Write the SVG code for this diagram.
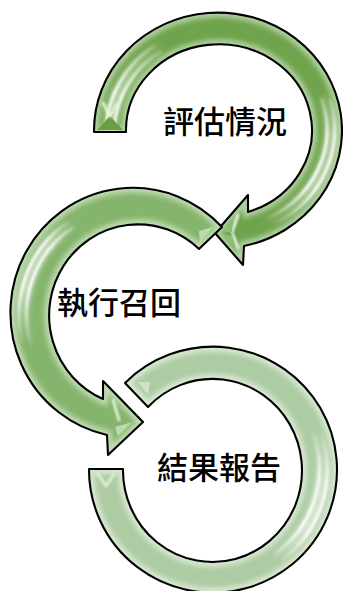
<svg xmlns="http://www.w3.org/2000/svg" width="343" height="591" viewBox="0 0 343 591">
<style>
.o{fill:none;stroke:#000;stroke-width:2.1;stroke-linejoin:round}
.e{fill:none;stroke-width:10;filter:url(#b3)}
.h{fill:none;stroke-width:2.8;stroke-linecap:round;filter:url(#b1)}
.w{fill:none;stroke-width:14;stroke-linecap:round;opacity:.5;filter:url(#b3)}
.f{filter:url(#b05)}
text{font-family:"Noto Sans CJK TC","Noto Sans CJK SC",sans-serif;font-size:31px;font-weight:500;fill:#000;text-anchor:middle}
</style>
<defs>
<filter id="b3" x="-20%" y="-20%" width="140%" height="140%"><feGaussianBlur stdDeviation="2.6"/></filter>
<filter id="b1" x="-30%" y="-30%" width="160%" height="160%"><feGaussianBlur stdDeviation="0.8"/></filter>
<filter id="b05" x="-30%" y="-30%" width="160%" height="160%"><feGaussianBlur stdDeviation="0.6"/></filter>
<path id="a1" d="M94,132 A124,118 0 1 1 244,246 L243,265 L215,233 L248,195 L248,212 A93,86 0 1 0 126,132 Z"/>
<path id="a2" d="M222,227 A122.5,125 0 1 0 107,435 L108,455 L143,422 L103,381 L103,399 A89,91 0 1 1 199,249 Z"/>
<path id="a3" d="M125,383 A124,123 0 1 1 89,469 L123,469 A89.5,91.5 0 1 0 148,407 Z"/>
<clipPath id="c1"><use href="#a1"/></clipPath>
<clipPath id="c2"><use href="#a2"/></clipPath>
<clipPath id="c3"><use href="#a3"/></clipPath>
<linearGradient id="g1a" gradientUnits="userSpaceOnUse" x1="108" y1="130" x2="172" y2="42"><stop offset="0" stop-color="#fff" stop-opacity=".8"/><stop offset=".3" stop-color="#fff"/><stop offset=".6" stop-color="#e4f2da" stop-opacity=".75"/><stop offset="1" stop-color="#e4f2da" stop-opacity="0"/></linearGradient>
<linearGradient id="g1b" gradientUnits="userSpaceOnUse" x1="325" y1="85" x2="262" y2="222"><stop offset="0" stop-color="#fff" stop-opacity="0"/><stop offset=".3" stop-color="#fff" stop-opacity=".9"/><stop offset=".65" stop-color="#fff"/><stop offset="1" stop-color="#fff" stop-opacity="0"/></linearGradient>
<linearGradient id="g2a" gradientUnits="userSpaceOnUse" x1="24" y1="345" x2="75" y2="220"><stop offset="0" stop-color="#fff" stop-opacity="0"/><stop offset=".4" stop-color="#fff"/><stop offset=".75" stop-color="#fff" stop-opacity=".9"/><stop offset="1" stop-color="#fff" stop-opacity="0"/></linearGradient>
<linearGradient id="g3a" gradientUnits="userSpaceOnUse" x1="325" y1="430" x2="270" y2="560"><stop offset="0" stop-color="#fff" stop-opacity="0"/><stop offset=".35" stop-color="#fff" stop-opacity=".9"/><stop offset=".7" stop-color="#fff"/><stop offset="1" stop-color="#fff" stop-opacity="0"/></linearGradient>
</defs>

<g id="connectors"/>

<g id="node-1">
<use href="#a1" fill="#6fa34c"/>
<g clip-path="url(#c1)">
<use href="#a1" class="e" stroke="#b0d0a0"/>
<path class="w" stroke="url(#g1a)" d="M110,128 A108.5,102 0 0 1 157,49"/>
<path class="w" stroke="url(#g1b)" d="M326,100 A108.5,102 0 0 1 271,221"/>
<path class="h" stroke="url(#g1a)" d="M114.3,128 A104.5,98 0 0 1 160,52"/>
<path class="h" stroke="url(#g1a)" d="M106.3,128 A112.5,106 0 0 1 154,46"/>
<path class="h" stroke="url(#g1b)" d="M322,100 A104.5,98 0 0 1 268,218"/>
<path class="h" stroke="url(#g1b)" d="M330,100 A112.5,106 0 0 1 274,224"/>
<polygon class="f" points="97,130 123,130 110,116" fill="#6a9e45"/>
<path class="h" stroke="#e6f4dc" d="M110,116 L103,103 M110,116 L117,104"/>
<path class="h" stroke="#eef8e6" d="M238,215 L232,232 M233,235 L238,248"/>
<polygon class="f" points="222,232 233,217 232,232" fill="#8fbb78"/>
<polygon class="f" points="222,234 232,236 237,254" fill="#8fbb78"/>
</g>
<use href="#a1" class="o"/>
<text x="225" y="133">評估情況</text>
</g>

<g id="node-2">
<use href="#a2" fill="#85b46c"/>
<g clip-path="url(#c2)">
<use href="#a2" class="e" stroke="#bfdab2"/>
<path class="w" stroke="url(#g2a)" d="M27,345 A106,108 0 0 1 70,225"/>
<path class="h" stroke="url(#g2a)" d="M31,345 A102,104 0 0 1 72,228"/>
<path class="h" stroke="url(#g2a)" d="M23,345 A110,112 0 0 1 68,222"/>
<polygon class="f" points="199,231 213,227 200,243" fill="#bdd9ae"/>
<path class="h" stroke="#e3f2d9" d="M113,400 L119,420"/>
<polygon class="f" points="115,427 132,422 118,436" fill="#bcdaa9"/>
</g>
<use href="#a2" class="o"/>
<text x="119" y="314">執行召回</text>
</g>

<g id="node-3">
<use href="#a3" fill="#adcca3"/>
<g clip-path="url(#c3)">
<use href="#a3" class="e" stroke="#d8e8d2"/>
<path class="w" stroke="url(#g3a)" d="M318,435 A106,108 0 0 1 279,556"/>
<path class="h" stroke="url(#g3a)" d="M314,435 A102,104 0 0 1 276,553"/>
<path class="h" stroke="url(#g3a)" d="M322,435 A110,112 0 0 1 282,560"/>
<polygon class="f" points="138,382 150,382 148,395" fill="#cfe2c8"/>
<path class="h" stroke="#e2f0dc" d="M106,486 L98,474 M106,486 L114,474"/>
</g>
<use href="#a3" class="o"/>
<text x="219" y="479">結果報告</text>
</g>
</svg>
